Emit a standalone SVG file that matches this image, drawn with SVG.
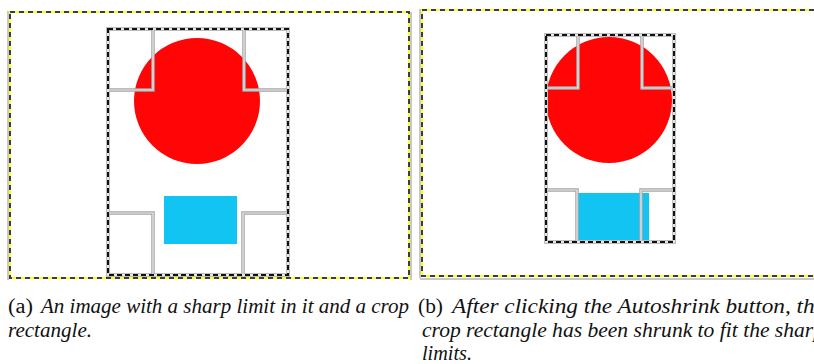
<svg xmlns="http://www.w3.org/2000/svg" width="814" height="364" viewBox="0 0 814 364">
<style>
.shadow{fill:none;stroke:#c8c8c8;stroke-width:2}
.pyel{fill:#fff;stroke:#ffff20;stroke-width:2}
.pdash{fill:none;stroke:#3c3c3c;stroke-width:2;stroke-dasharray:5 4}
.circ{fill:#ff0505}
.cyan{fill:#12c4f2}
.cropbg{fill:none;stroke:#bdbdbd;stroke-width:4}
.cropw{fill:none;stroke:#f4f4f4;stroke-width:1.5}
.cropd{fill:none;stroke:#111;stroke-width:2;stroke-dasharray:5 3}
.h1{fill:none;stroke:#a6a6a6;stroke-width:3.5}
.h2{fill:none;stroke:#ececec;stroke-width:1.2}
.cap{font-family:"Liberation Serif","DejaVu Serif",serif;font-size:20px;fill:#111}
.it{font-style:italic}
</style>
<g id="panel-a">
  <line class="shadow" x1="8" y1="11" x2="8" y2="280"/>
  <line class="shadow" x1="411" y1="12" x2="411" y2="280"/>
  <rect class="pyel" x="10" y="12" width="399" height="266"/>
  <rect class="pdash" x="10" y="12" width="399" height="266"/>
  <circle class="circ" cx="197" cy="101" r="63"/>
  <rect class="cyan" x="164" y="196" width="73" height="48"/>
  <rect class="cropbg" x="108" y="29" width="180" height="246"/>
  <rect class="cropw" x="108" y="29" width="180" height="246"/>
  <rect class="cropd" x="108" y="29" width="180" height="246"/>
  <path class="h1" d="M109,90 H153 V30 M287,90 H244 V30 M109,213 H153 V274 M287,213 H243 V274"/>
  <path class="h2" d="M109,90 H153 V30 M287,90 H244 V30 M109,213 H153 V274 M287,213 H243 V274"/>
</g>
<g id="panel-b">
  <line class="shadow" x1="420" y1="9" x2="420" y2="278"/>
  <line class="shadow" x1="420" y1="279" x2="814" y2="279"/>
  <rect class="pyel" x="422" y="10" width="400" height="266"/>
  <rect class="pdash" x="422" y="10" width="400" height="266"/>
  <circle class="circ" cx="609" cy="100" r="63"/>
  <rect class="cyan" x="578" y="193" width="71" height="48"/>
  <rect class="cropbg" x="546" y="35" width="128" height="207"/>
  <rect class="cropw" x="546" y="35" width="128" height="207"/>
  <rect class="cropd" x="546" y="35" width="128" height="207"/>
  <path class="h1" d="M547,88 H578 V36 M673,88 H642 V36 M547,190 H577 V241 M673,190 H641 V241"/>
  <path class="h2" d="M547,88 H578 V36 M673,88 H642 V36 M547,190 H577 V241 M673,190 H641 V241"/>
</g>
<g id="caption-a" class="cap">
  <text x="8" y="313" textLength="25" lengthAdjust="spacingAndGlyphs">(a)</text>
  <text class="it" x="41" y="313" textLength="368" lengthAdjust="spacingAndGlyphs">An image with a sharp limit in it and a crop</text>
  <text class="it" x="8" y="337" textLength="84" lengthAdjust="spacingAndGlyphs">rectangle.</text>
</g>
<g id="caption-b" class="cap">
  <text x="418" y="313" textLength="25" lengthAdjust="spacingAndGlyphs">(b)</text>
  <text class="it" x="452" y="313" textLength="373" lengthAdjust="spacingAndGlyphs">After clicking the Autoshrink button, the</text>
  <text class="it" x="422" y="337" textLength="402" lengthAdjust="spacingAndGlyphs">crop rectangle has been shrunk to fit the sharp</text>
  <text class="it" x="422" y="360" textLength="50" lengthAdjust="spacingAndGlyphs">limits.</text>
</g>
</svg>
